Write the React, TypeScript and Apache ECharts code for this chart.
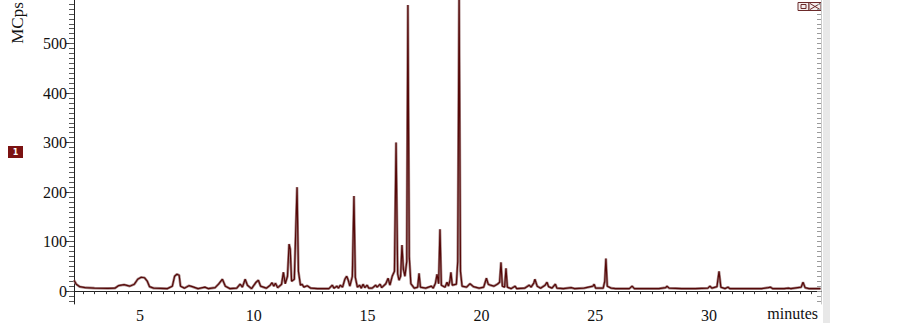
import React, { useEffect, useRef } from "react";
import * as echarts from "echarts";

const times = [
  2.1, 2.2, 2.35, 2.6, 3.0, 3.6, 3.9, 4.05, 4.3, 4.55, 4.75, 4.9, 5.05, 5.2, 5.32, 5.42, 5.6,
  6.2, 6.42, 6.52, 6.62, 6.72, 6.78, 6.95, 7.15, 7.3, 7.55, 7.85, 8.0, 8.3, 8.45, 8.62, 8.75,
  8.95, 9.25, 9.4, 9.5, 9.62, 9.72, 9.9, 10.1, 10.2, 10.3, 10.55, 10.72, 10.8, 10.88, 10.95,
  11.05, 11.22, 11.3, 11.38, 11.48, 11.55, 11.6, 11.66, 11.78, 11.9, 11.96, 12.05, 12.12, 12.2,
  12.35, 12.5, 12.8, 13.3, 13.45, 13.52, 13.65, 13.72, 13.8, 13.9, 14.0, 14.08, 14.15, 14.22,
  14.33, 14.4, 14.46, 14.55, 14.65, 14.72, 14.8, 14.88, 14.98, 15.05, 15.2, 15.35, 15.42, 15.55,
  15.62, 15.8, 15.9, 15.98, 16.08, 16.18, 16.25, 16.32, 16.38, 16.45, 16.51, 16.57, 16.64,
  16.72, 16.77, 16.83, 16.9, 17.05, 17.2, 17.26, 17.32, 17.55, 17.8, 17.88, 17.98, 18.05, 18.12,
  18.18, 18.24, 18.4, 18.49, 18.55, 18.62, 18.66, 18.72, 18.9, 18.96, 19.02, 19.08, 19.15,
  19.35, 19.5, 19.65, 19.9, 20.1, 20.22, 20.3, 20.4, 20.55, 20.7, 20.8, 20.86, 20.92, 21.02,
  21.08, 21.14, 21.3, 21.48, 21.55, 21.9, 22.1, 22.18, 22.3, 22.35, 22.45, 22.6, 22.8, 22.88,
  22.95, 23.1, 23.25, 23.32, 23.6, 23.95, 24.1, 24.5, 24.9, 24.95, 25.02, 25.35, 25.42, 25.47,
  25.53, 25.7, 25.9, 26.5, 26.62, 26.72, 27.3, 27.8, 28.1, 28.15, 28.25, 28.8, 29.4, 29.95,
  30.04, 30.12, 30.35, 30.44, 30.52, 30.7, 30.83, 30.92, 31.5, 32.3, 32.6, 32.7, 32.8, 33.3,
  33.5, 33.6, 34.05, 34.13, 34.22, 34.4, 34.9,
];

const mcps = [
  22, 14, 9, 7, 6, 5.5, 6, 11, 13, 10, 14, 24, 28, 27, 20, 9, 6,
  5, 10, 30, 34, 32, 10, 6, 11, 9, 5, 8, 5, 7, 14, 24, 10,
  5, 6, 14, 8, 24, 12, 5, 18, 22, 10, 6, 12, 17, 10, 16,
  7, 14, 38, 15, 30, 95, 85, 20, 24, 210, 40, 12, 14, 8,
  11, 6, 5, 5, 12, 6, 10, 6, 12, 8, 24, 30, 22, 10,
  30, 192, 28, 8, 12, 6, 14, 7, 12, 6, 6, 12, 8, 14,
  7, 15, 26, 12, 30, 40, 300, 35, 22, 30, 93, 45, 30,
  60, 578, 70, 15, 6, 8, 36, 8, 6, 10, 6, 16, 34, 15,
  125, 12, 8, 18, 10, 22, 38, 12, 14, 60, 600, 40, 10,
  8, 15, 9, 6, 8, 26, 14, 12, 10, 14, 18, 58, 10, 8,
  46, 8, 5, 10, 5, 6, 12, 8, 16, 24, 10, 6, 12, 18,
  9, 6, 14, 6, 5, 7, 5, 6, 10, 14, 6, 6, 20, 66,
  10, 6, 5, 5, 10, 5, 5, 5, 7, 10, 6, 5, 5, 6,
  10, 6, 9, 40, 8, 5, 8, 5, 5, 5, 7, 8, 5, 5,
  6, 5, 8, 18, 7, 5, 5,
];

const xLabelValues = [5, 10, 15, 20, 25, 30];
const yLabelValues = [0, 100, 200, 300, 400, 500];

const serif = "'Liberation Serif', 'Times New Roman', serif";

export default function App() {
  const ref = useRef<HTMLDivElement>(null);
  useEffect(() => {
    const chart = echarts.init(ref.current!, null, { renderer: "svg" });
    const data = times.map((t, i) => [t, mcps[i]]);
    const xTicks: number[] = [];
    for (let i = 5; i <= 69; i++) xTicks.push(i / 2);
    const yMinor: number[] = [];
    for (let i = -2; i <= 58; i++) yMinor.push(i * 10);

    const yMin = -26;
    const yMax = 588;
    chart.setOption({
      animation: false,
      textStyle: { fontFamily: serif },
      grid: { left: 74, right: 82, top: 0, bottom: 19, containLabel: false },
      xAxis: {
        type: "value",
        min: 2.1,
        max: 34.92,
        axisLine: { show: true, lineStyle: { color: "#222", width: 1 } },
        axisTick: { show: true, customValues: xTicks, length: 3, lineStyle: { color: "#333" } },
        axisLabel: {
          customValues: xLabelValues,
          fontFamily: serif,
          fontSize: 16,
          color: "#111",
          margin: 3,
        },
        splitLine: { show: false },
      },
      yAxis: [
        {
          type: "value",
          min: yMin,
          max: yMax,
          position: "left",
          axisLine: { show: true, lineStyle: { color: "#222", width: 1 } },
          axisTick: { show: true, customValues: yLabelValues, length: 8, lineStyle: { color: "#333" } },
          axisLabel: {
            customValues: yLabelValues,
            fontFamily: serif,
            fontSize: 16,
            color: "#111",
            margin: 7,
          },
          splitLine: { show: false },
        },
        {
          type: "value",
          min: yMin,
          max: yMax,
          position: "left",
          axisLine: { show: false },
          axisTick: { show: true, customValues: yMinor, length: 5, lineStyle: { color: "#555" } },
          axisLabel: { show: false },
          splitLine: { show: false },
        },
        {
          type: "value",
          min: yMin,
          max: yMax,
          position: "right",
          axisLine: { show: true, lineStyle: { color: "#c8c8c8", width: 1 } },
          axisTick: { show: true, inside: true, customValues: yMinor, length: 4, lineStyle: { color: "#9a9a9a" } },
          axisLabel: { show: false },
          splitLine: { show: false },
        },
      ],
      series: [
        {
          type: "line",
          data,
          symbol: "none",
          lineStyle: { color: "#a98b8b", width: 2.6 },
          z: 2,
        },
        {
          type: "line",
          data,
          symbol: "none",
          lineStyle: { color: "#560808", width: 1.2 },
          z: 3,
        },
      ],
      graphic: [
        { type: "rect", shape: { x: 823, y: 0, width: 7, height: 323 }, style: { fill: "#e8e8e8" } },
        {
          type: "text",
          x: 17,
          y: 23,
          rotation: Math.PI / 2,
          style: {
            text: "MCps",
            font: `17px ${serif}`,
            fill: "#111",
            align: "center",
            verticalAlign: "middle",
          },
        },
        {
          type: "text",
          x: 818,
          y: 313,
          style: {
            text: "minutes",
            font: `16px ${serif}`,
            fill: "#111",
            align: "right",
            verticalAlign: "middle",
          },
        },
        { type: "rect", shape: { x: 8, y: 146, width: 15, height: 12 }, style: { fill: "#7b1212" } },
        {
          type: "text",
          x: 15.5,
          y: 152,
          style: {
            text: "1",
            font: "bold 8px 'DejaVu Sans', sans-serif",
            fill: "#fff",
            align: "center",
            verticalAlign: "middle",
          },
        },
        { type: "rect", shape: { x: 798, y: 2.5, width: 11, height: 8 }, style: { fill: "#f4eeee", stroke: "#6b2a2a", lineWidth: 1 } },
        { type: "rect", shape: { x: 801, y: 4.5, width: 5, height: 4 }, style: { fill: "none", stroke: "#6b2a2a", lineWidth: 1 } },
        { type: "rect", shape: { x: 809, y: 2.5, width: 12, height: 8 }, style: { fill: "#f4eeee", stroke: "#6b2a2a", lineWidth: 1 } },
        { type: "line", shape: { x1: 810, y1: 3.5, x2: 820, y2: 9.5 }, style: { stroke: "#6b2a2a", lineWidth: 1 } },
        { type: "line", shape: { x1: 820, y1: 3.5, x2: 810, y2: 9.5 }, style: { stroke: "#6b2a2a", lineWidth: 1 } },
      ],
    });
    return () => chart.dispose();
  }, []);
  return (
    <div
      ref={ref}
      style={{ position: "fixed", left: 0, top: 0, width: 903, height: 323, background: "#fff" }}
    />
  );
}
